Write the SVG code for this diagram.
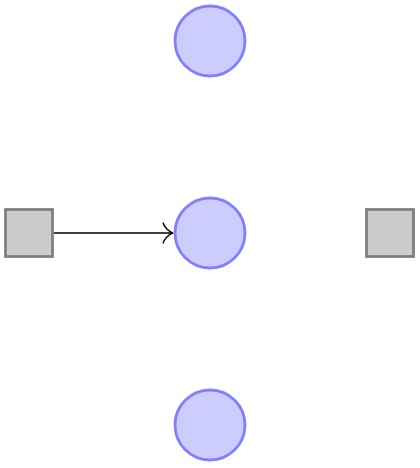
<svg xmlns="http://www.w3.org/2000/svg" width="420" height="468" viewBox="0 0 420 468">
<style>
.place{fill:#ccccff;stroke:#8080ff;stroke-width:2.8}
.trans{fill:#cccccc;stroke:#808080;stroke-width:2.8}
.arc{stroke:#000;stroke-width:1.4;fill:none}
</style>
<defs>
<marker id="to" markerUnits="userSpaceOnUse" markerWidth="14" markerHeight="24" refX="11" refY="12" orient="auto" viewBox="0 0 14 24">
<path d="M1,1.5 C2,6 7,11 11,12 C7,13 2,18 1,22.5" fill="none" stroke="#000" stroke-width="1.4"/>
</marker>
</defs>
<g id="p1"><circle class="place" cx="210" cy="41" r="35"/></g>
<g id="p2"><circle class="place" cx="210" cy="233" r="35"/></g>
<g id="p3"><circle class="place" cx="210" cy="425" r="35"/></g>
<g id="t1"><rect class="trans" x="5.5" y="209.5" width="47" height="47"/></g>
<g id="t2"><rect class="trans" x="366.5" y="209.5" width="47" height="47"/></g>
<g id="connectors">
<line class="arc" x1="54" y1="233" x2="173" y2="233" marker-end="url(#to)"/>
</g>
</svg>
